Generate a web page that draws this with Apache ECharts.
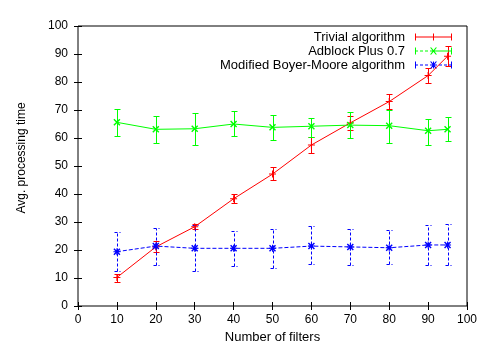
<!DOCTYPE html>
<html>
<head>
<meta charset="utf-8">
<script src="https://cdn.jsdelivr.net/npm/echarts@6/dist/echarts.min.js"></script>
<style>html,body{margin:0;padding:0;background:#fff}#c{width:495px;height:357px}</style>
</head>
<body>
<div id="c"></div>
<script>
const filters = [10, 20, 30, 40, 50, 60, 70, 80, 90, 95];

const trivialMean = [10.2, 21.1, 28.3, 38.3, 47.1, 57.5, 65.4, 73.0, 82.3, 89.2];
const trivialLow  = [8.6, 19.2, 27.4, 36.8, 44.9, 54.8, 62.9, 70.4, 79.8, 85.7];
const trivialHigh = [11.3, 23.1, 29.2, 39.9, 49.5, 60.2, 67.9, 75.6, 85.1, 92.9];

const adblockMean = [65.6, 63.1, 63.3, 65.0, 63.8, 64.2, 64.6, 64.4, 62.6, 63.1];
const adblockLow  = [60.6, 58.2, 57.4, 60.6, 59.3, 60.2, 59.9, 58.3, 57.4, 58.9];
const adblockHigh = [70.2, 67.7, 68.8, 69.5, 68.3, 67.3, 69.2, 69.9, 66.9, 67.4];

const bmMean = [19.4, 21.4, 20.6, 20.6, 20.6, 21.4, 21.1, 20.8, 21.8, 21.8];
const bmLow  = [12.4, 14.5, 12.5, 14.2, 13.5, 14.9, 14.5, 14.9, 14.5, 14.5];
const bmHigh = [26.3, 28.0, 28.9, 26.9, 27.6, 28.5, 27.4, 27.0, 28.8, 29.2];

const xTicks = [0, 10, 20, 30, 40, 50, 60, 70, 80, 90, 100];
const yTicks = [0, 10, 20, 30, 40, 50, 60, 70, 80, 90, 100];

const names = ['Trivial algorithm', 'Adblock Plus 0.7', 'Modified Boyer-Moore algorithm'];
const colors = ['#ff0000', '#00ff00', '#0000ff'];

const plusPath = 'path://M0,3 L7,3 L7,4 L0,4 Z M3,0 L4,0 L4,7 L3,7 Z';
const crossPath = 'path://M0,1 L1,0 L7,6 L6,7 Z M6,0 L7,1 L1,7 L0,6 Z';
const starPath = 'path://M0,3 L7,3 L7,4 L0,4 Z M3,0 L4,0 L4,7 L3,7 Z M0,1 L1,0 L7,6 L6,7 Z M6,0 L7,1 L1,7 L0,6 Z';

// legend icons (37 x 7): line sample with error-bar caps and marker
const caps = 'M0,0 L1,0 L1,7 L0,7 Z M36,0 L37,0 L37,7 L36,7 Z ';
const iconTrivial = 'path://' + caps + 'M0,3 L37,3 L37,4 L0,4 Z M18,0 L19,0 L19,7 L18,7 Z';
const iconAdblock = 'path://' + caps +
  'M0,3 L3,3 L3,4 L0,4 Z M5,3 L8,3 L8,4 L5,4 Z M10,3 L13,3 L13,4 L10,4 Z M15,3 L37,3 L37,4 L15,4 Z ' +
  'M15,0 L16.4,0 L22,7 L20.6,7 Z M20.6,0 L22,0 L16.4,7 L15,7 Z';
const iconBM = 'path://' + caps +
  'M0,3 L3,3 L3,4 L0,4 Z M5,3 L8,3 L8,4 L5,4 Z M10,3 L13,3 L13,4 L10,4 Z M15,3 L22,3 L22,4 L15,4 Z ' +
  'M24,3 L27,3 L27,4 L24,4 Z M29,3 L32,3 L32,4 L29,4 Z M34,3 L37,3 L37,4 L34,4 Z ' +
  'M15,0 L16.4,0 L22,7 L20.6,7 Z M20.6,0 L22,0 L16.4,7 L15,7 Z M18,0 L19,0 L19,7 L18,7 Z';

function pairs(xs, ys) { return xs.map((x, i) => [x, ys[i]]); }
function triples(xs, lo, hi) { return xs.map((x, i) => [x, lo[i], hi[i]]); }

function errSeries(name, data, color, dashed) {
  return {
    type: 'custom',
    name: name,
    data: data,
    encode: { x: 0, y: [1, 2] },
    z: 3,
    renderItem: function (params, api) {
      const x = api.value(0);
      const p1 = api.coord([x, api.value(1)]);
      const p2 = api.coord([x, api.value(2)]);
      const cx = Math.round(p1[0]) + 0.5;
      const y1 = Math.round(p1[1]) + 0.5;
      const y2 = Math.round(p2[1]) + 0.5;
      const w = 3;
      const style = { stroke: color, lineWidth: 1, lineDash: dashed ? [3, 2] : null };
      return {
        type: 'group',
        children: [
          { type: 'line', shape: { x1: cx, y1: y1, x2: cx, y2: y2 }, style: style },
          { type: 'line', shape: { x1: cx - w, y1: y1, x2: cx + w, y2: y1 }, style: style },
          { type: 'line', shape: { x1: cx - w, y1: y2, x2: cx + w, y2: y2 }, style: style }
        ]
      };
    }
  };
}

function lineSeries(name, data, color, symbol, dashed) {
  return {
    type: 'line',
    name: name,
    data: data,
    symbol: symbol,
    symbolSize: 7,
    showSymbol: true,
    z: 4,
    lineStyle: { color: color, width: 1, type: dashed ? [4, 2] : 'solid' },
    itemStyle: { color: color, borderWidth: 0 },
    emphasis: { disabled: true }
  };
}

const font = 'Liberation Sans, Arial, Helvetica, sans-serif';

const chart = echarts.init(document.getElementById('c'), null, { renderer: 'canvas' });
chart.setOption({
  animation: false,
  backgroundColor: '#fff',
  textStyle: { fontFamily: font, color: '#000' },
  grid: { left: 78, right: 28, top: 26, bottom: 51, show: true, borderColor: '#000', borderWidth: 1, backgroundColor: 'transparent' },
  legend: {
    data: [
      { name: names[0], icon: iconTrivial },
      { name: names[1], icon: iconAdblock },
      { name: names[2], icon: iconBM }
    ],
    orient: 'vertical',
    align: 'right',
    right: 43,
    top: 30,
    padding: 0,
    itemWidth: 37,
    itemHeight: 7,
    itemGap: 0,
    itemStyle: { borderWidth: 0 },
    textStyle: { fontFamily: font, fontSize: 13, color: '#000', padding: [0, 5, 0, 0], lineHeight: 14 },
    selectedMode: false
  },
  xAxis: [{
    type: 'value', min: 0, max: 100, interval: 10,
    name: 'Number of filters', nameLocation: 'middle', nameGap: 21,
    nameTextStyle: { fontFamily: font, fontSize: 13, color: '#000' },
    axisLine: { show: false },
    axisTick: { show: true, inside: true, length: 4, lineStyle: { color: '#000' } },
    axisLabel: { fontFamily: font, fontSize: 12, color: '#000', margin: 8,
      formatter: v => xTicks.indexOf(v) >= 0 ? String(v) : '' },
    splitLine: { show: false }
  }, {
    type: 'value', min: 0, max: 100, interval: 10, position: 'top',
    axisLine: { show: false },
    axisTick: { show: true, inside: true, length: 4, lineStyle: { color: '#000' } },
    axisLabel: { show: false }, splitLine: { show: false }
  }],
  yAxis: [{
    type: 'value', min: 0, max: 100, interval: 10,
    name: 'Avg. processing time', nameLocation: 'middle', nameGap: 50,
    nameTextStyle: { fontFamily: font, fontSize: 12, color: '#000', padding: [0, 0, 0, 16] },
    axisLine: { show: false },
    axisTick: { show: true, inside: true, length: 4, lineStyle: { color: '#000' } },
    axisLabel: { fontFamily: font, fontSize: 12, color: '#000', margin: 10,
      formatter: v => yTicks.indexOf(v) >= 0 ? String(v) : '' },
    splitLine: { show: false }
  }, {
    type: 'value', min: 0, max: 100, interval: 10, position: 'right',
    axisLine: { show: false },
    axisTick: { show: true, inside: true, length: 4, lineStyle: { color: '#000' } },
    axisLabel: { show: false }, splitLine: { show: false }
  }],
  series: [
    errSeries('trivial-err', triples(filters, trivialLow, trivialHigh), colors[0], false),
    lineSeries(names[0], pairs(filters, trivialMean), colors[0], plusPath, false),
    errSeries('adblock-err', triples(filters, adblockLow, adblockHigh), colors[1], false),
    lineSeries(names[1], pairs(filters, adblockMean), colors[1], crossPath, false),
    errSeries('bm-err', triples(filters, bmLow, bmHigh), colors[2], true),
    lineSeries(names[2], pairs(filters, bmMean), colors[2], starPath, true)
  ]
});
</script>
</body>
</html>
